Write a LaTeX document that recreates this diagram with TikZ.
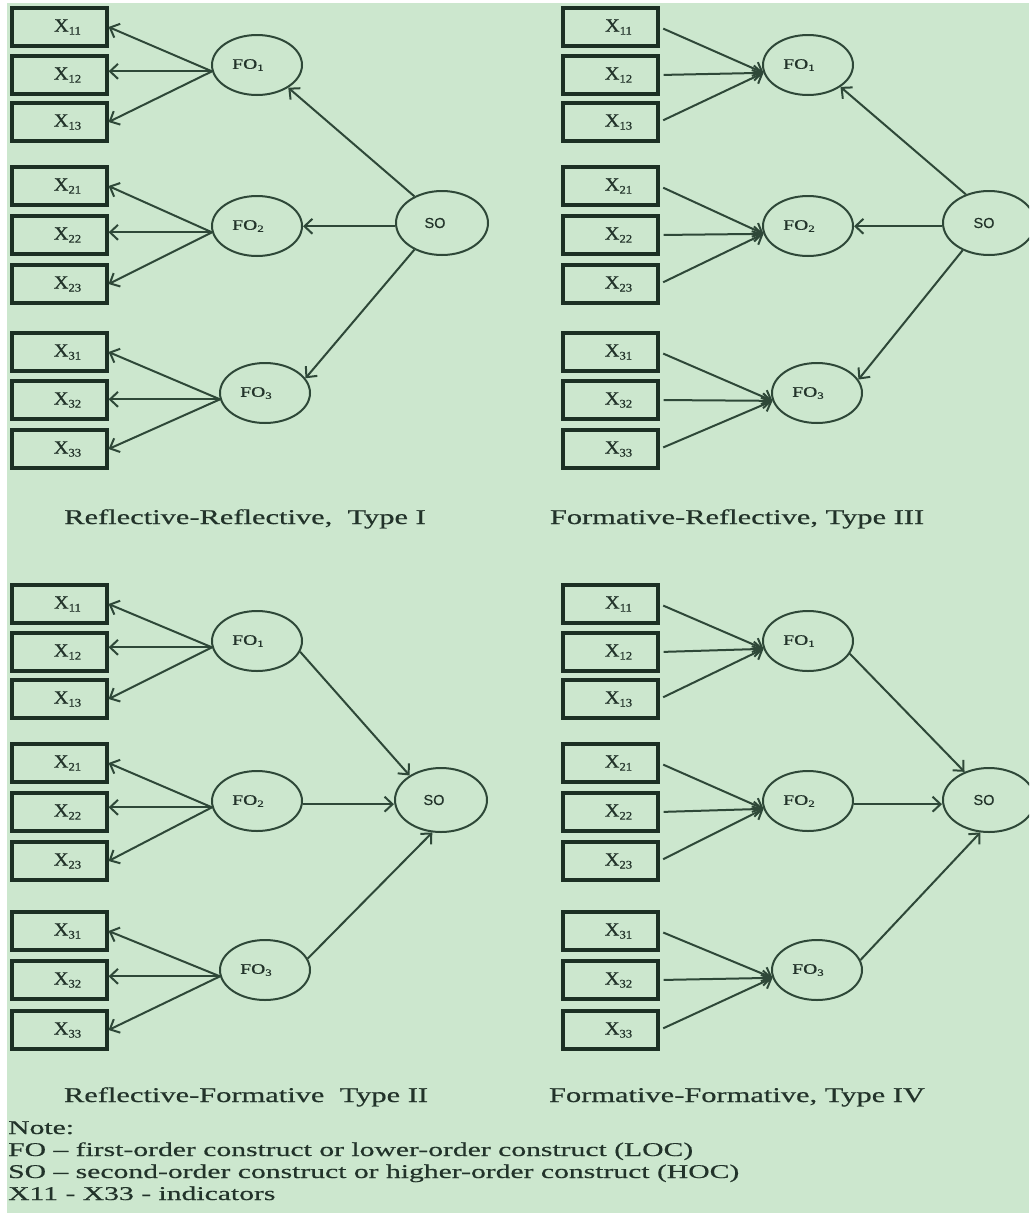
\documentclass[tikz,border=0pt]{standalone}
\usepackage{fontspec}
\setmainfont{Liberation Serif}
\newfontfamily\wideserif{Liberation Serif}[FakeStretch=1.45,FakeBold=0.6]
\newfontfamily\noteserif{Liberation Serif}[FakeStretch=1.52,FakeBold=0.5]
\newfontfamily\foserif{Liberation Serif}[FakeStretch=1.35,FakeBold=0.6]
\newfontfamily\labserif{Liberation Serif}[FakeStretch=1.1,FakeBold=0.7]
\newfontfamily\sosans{Liberation Sans}[FakeBold=0.4]
\usetikzlibrary{arrows.meta,shapes.geometric}

\definecolor{bg}{HTML}{CCE7CE}
\definecolor{ink}{HTML}{2E4838}
\definecolor{boxink}{HTML}{1C3024}
\definecolor{txt}{HTML}{22332A}

% indicator label with a lowered index, and construct label with a small index
\newcommand\xlab[1]{\hspace*{16pt}X\raisebox{-3pt}{\fontsize{11.5}{11.5}\selectfont #1}}
\newcommand\folab[1]{FO\raisebox{-2pt}{\fontsize{9.5}{9.5}\selectfont #1}\hspace*{18pt}}

\begin{document}
\begin{tikzpicture}[x=1pt,y=-1pt,
  ind/.style={draw=boxink, line width=3.1pt, minimum width=95pt, minimum height=38pt,
              inner sep=0pt, text=txt, font=\labserif\fontsize{18.5}{18.5}\selectfont},
  lat/.style={ellipse, draw=ink, line width=2pt, minimum width=90pt, minimum height=60pt,
              inner sep=0pt, text=txt, font=\foserif\fontsize{14.5}{14.5}\selectfont},
  hoc/.style={lat, minimum width=92pt, minimum height=64pt,
              font=\sosans\fontsize{14.5}{14.5}\selectfont},
  arr/.style={draw=ink, line width=2pt,
              -{Straight Barb[length=8pt,width=15pt,line width=2pt]}},
  outarr/.style={arr, shorten <=4pt},
  capt/.style={anchor=base, text=txt, inner sep=0pt,
               font=\wideserif\fontsize{21}{21}\selectfont},
  note/.style={anchor=base west, text=txt, inner sep=0pt,
               font=\noteserif\fontsize{19.5}{19.5}\selectfont}]

\clip (0,0) rectangle (1029,1213);
\fill[white] (0,0) rectangle (1029,1213);
\fill[bg] (7,3) rectangle (1029,1213);

% ---------- Type I : reflective-reflective ----------
\begin{scope}[name prefix=a-]
  \foreach \n/\y in {11/27,12/75,13/122,21/186,22/235,23/284,31/352,32/400,33/449}
    \node[ind] (x\n) at (59.5,\y) {\xlab{\n}};
  \node[lat] (fo1) at (257,65) {\folab{1}};
  \node[lat] (fo2) at (257,226) {\folab{2}};
  \node[lat] (fo3) at (265,393) {\folab{3}};
  \node[hoc] (so) at (442,223) {SO\hspace*{14pt}};
  \foreach \i in {1,2,3} {
    \draw[arr] (fo\i.188) -- (x\i1.east);
    \draw[arr] (fo\i.188) -- (fo\i.188 -| x\i2.east);
    \draw[arr] (fo\i.188) -- (x\i3.east);
  }
  \draw[arr] (so.136) -- (fo1.-36);
  \draw[arr] (so.184) -- (so.184 -| fo2.east);
  \draw[arr] (so.-136) -- (fo3.20);
\end{scope}
\node[capt] (capA) at (245,524) {Reflective-Reflective,\ \ Type I};

% ---------- Type III : formative-reflective ----------
\begin{scope}[name prefix=c-]
  \foreach \n/\y in {11/27,12/75,13/122,21/186,22/235,23/284,31/352,32/400,33/449}
    \node[ind] (x\n) at (610.5,\y) {\xlab{\n}};
  \node[lat] (fo1) at (808,65) {\folab{1}};
  \node[lat] (fo2) at (808,226) {\folab{2}};
  \node[lat] (fo3) at (817,393) {\folab{3}};
  \node[hoc] (so) at (989,223) {SO\hspace*{10pt}};
  \foreach \i in {1,2,3} \foreach \j in {1,2,3}
    \draw[outarr] (x\i\j.east) -- (fo\i.190);
  \draw[arr] (so.129) -- (fo1.-34);
  \draw[arr] (so.184) -- (so.184 -| fo2.east);
  \draw[arr] (so.-134) -- (fo3.18);
\end{scope}
\node[capt] (capC) at (737,524) {Formative-Reflective, Type III};

% ---------- Type II : reflective-formative ----------
\begin{scope}[name prefix=b-]
  \foreach \n/\y in {11/604,12/652,13/699,21/763,22/812,23/861,31/931,32/980,33/1030}
    \node[ind] (x\n) at (59.5,\y) {\xlab{\n}};
  \node[lat] (fo1) at (257,641) {\folab{1}};
  \node[lat] (fo2) at (257,801) {\folab{2}};
  \node[lat] (fo3) at (265,970) {\folab{3}};
  \node[hoc] (so) at (441,800) {SO\hspace*{14pt}};
  \foreach \i in {1,2,3} {
    \draw[arr] (fo\i.188) -- (x\i1.east);
    \draw[arr] (fo\i.188) -- (fo\i.188 -| x\i2.east);
    \draw[arr] (fo\i.188) -- (x\i3.east);
  }
  \draw[arr] (fo1.-14) -- (so.142);
  \draw[arr] (fo2.-4) -- (fo2.-4 -| so.west);
  \draw[arr] (fo3.15) -- (so.-105);
\end{scope}
\node[capt] (capB) at (246,1102) {Reflective-Formative\ \ Type II};

% ---------- Type IV : formative-formative ----------
\begin{scope}[name prefix=d-]
  \foreach \n/\y in {11/604,12/652,13/699,21/763,22/812,23/861,31/931,32/980,33/1030}
    \node[ind] (x\n) at (610.5,\y) {\xlab{\n}};
  \node[lat] (fo1) at (808,641) {\folab{1}};
  \node[lat] (fo2) at (808,801) {\folab{2}};
  \node[lat] (fo3) at (817,970) {\folab{3}};
  \node[hoc] (so) at (989,800) {SO\hspace*{10pt}};
  \foreach \i in {1,2,3} \foreach \j in {1,2,3}
    \draw[outarr] (x\i\j.east) -- (fo\i.190);
  \draw[arr] (fo1.-17) -- (so.131);
  \draw[arr] (fo2.-4) -- (fo2.-4 -| so.west);
  \draw[arr] (fo3.13) -- (so.-105);
\end{scope}
\node[capt] (capD) at (737,1102) {Formative-Formative, Type IV};

% ---------- legend ----------
\node[note] (n0) at (8,1134) {Note:};
\node[note] (n1) at (8,1156) {FO – first-order construct or lower-order construct (LOC)};
\node[note] (n2) at (8,1178) {SO – second-order construct or higher-order construct (HOC)};
\node[note] (n3) at (8,1200) {X11 - X33 - indicators};
\end{tikzpicture}
\end{document}
